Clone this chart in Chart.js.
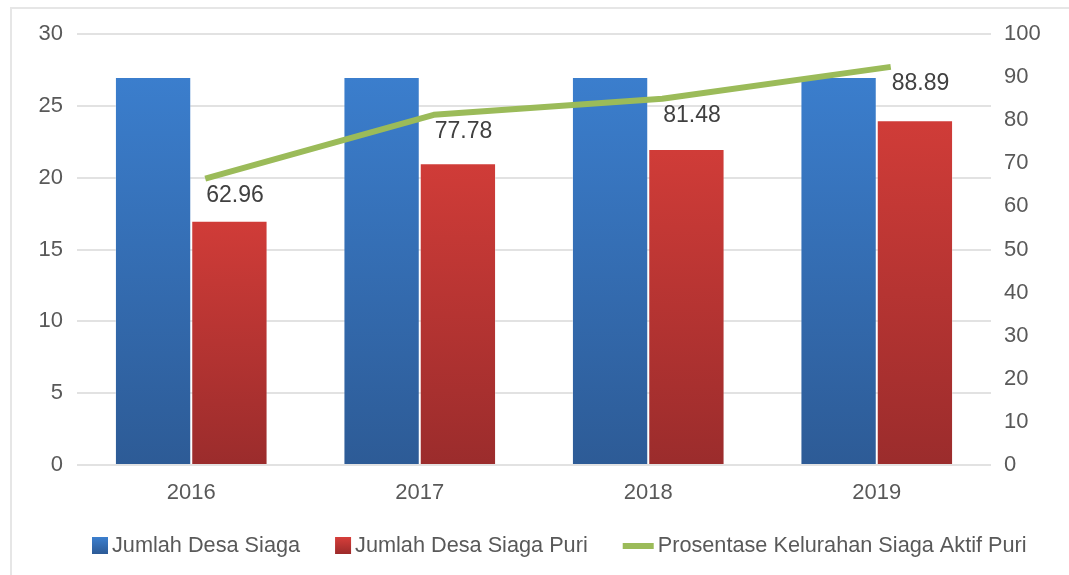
<!DOCTYPE html>
<html><head><meta charset="utf-8">
<script src="https://cdn.jsdelivr.net/npm/chart.js@4.4.1/dist/chart.umd.min.js"></script>
<style>
html,body{margin:0;padding:0;background:#fff;overflow:hidden;}
#wrap{position:relative;width:1069px;height:575px;}
#frame{position:absolute;left:10px;top:7px;right:-2px;bottom:-2px;border-top:2px solid #e6e6e6;border-left:2px solid #e6e6e6;}
canvas{position:absolute;left:0;top:0;}
</style></head><body>
<div id="wrap"><div id="frame"></div><canvas id="c" width="1069" height="575"></canvas></div>
<script>
const categories = ['2016', '2017', '2018', '2019'];
const desaSiaga = [27, 27, 27, 27];
const desaSiagaPuri = [17, 21, 22, 24];
const prosentase = [62.96, 77.78, 81.48, 88.89];
const prosentaseLabels = ['62.96', '77.78', '81.48', '88.89'];
const seriesNames = ['Jumlah Desa Siaga', 'Jumlah Desa Siaga Puri', 'Prosentase Kelurahan Siaga Aktif Puri'];

const FONT = "'Liberation Sans', Arial, sans-serif";
const TXT = '#595959';

function barGradient(topCol, botCol, fallback) {
  return function(ctx) {
    const chart = ctx.chart;
    if (!chart.chartArea || ctx.raw === undefined) return fallback;
    const ys = chart.scales.y;
    const t = ys.getPixelForValue(ctx.raw);
    const b = ys.getPixelForValue(0);
    if (!isFinite(t) || !isFinite(b) || t === b) return fallback;
    const g = chart.ctx.createLinearGradient(0, t, 0, b);
    g.addColorStop(0, topCol);
    g.addColorStop(1, botCol);
    return g;
  };
}

const lineShift = {
  id: 'lineShift',
  beforeDatasetDraw(chart, args) {
    if (args.index === 2) { chart.ctx.save(); chart.ctx.translate(14, -15); }
  },
  afterDatasetDraw(chart, args) {
    if (args.index === 2) { chart.ctx.restore(); }
  }
};

const valueLabels = {
  id: 'valueLabels',
  afterDatasetsDraw(chart) {
    const ctx = chart.ctx;
    const meta = chart.getDatasetMeta(2);
    ctx.save();
    ctx.font = "23px " + FONT;
    ctx.fillStyle = '#404040';
    ctx.textAlign = 'left';
    ctx.textBaseline = 'middle';
    meta.data.forEach((pt, i) => {
      ctx.fillText(prosentaseLabels[i], pt.x + 15, pt.y + 2);
    });
    ctx.restore();
  }
};

const customLegend = {
  id: 'customLegend',
  afterDraw(chart) {
    const ctx = chart.ctx;
    ctx.save();
    ctx.font = "21.7px " + FONT;
    ctx.textBaseline = 'middle';
    ctx.textAlign = 'left';
    const cy = 546;
    let x = 92;
    const syms = [
      {type: 'box', top: 'rgb(60,127,206)', bot: 'rgb(44,90,150)'},
      {type: 'box', top: 'rgb(214,62,58)', bot: 'rgb(156,42,42)'},
      {type: 'line', col: '#9bbb59'}
    ];
    chart.data.datasets.forEach((ds, i) => {
      const s = syms[i];
      let w;
      if (s.type === 'box') {
        w = 16;
        const g = ctx.createLinearGradient(0, cy - 9, 0, cy + 8);
        g.addColorStop(0, s.top); g.addColorStop(1, s.bot);
        ctx.fillStyle = g;
        ctx.fillRect(x, cy - 9, w, 17);
      } else {
        w = 31;
        ctx.fillStyle = s.col;
        ctx.fillRect(x, cy - 3, w, 6);
      }
      const tx = x + w + 4;
      ctx.fillStyle = TXT;
      ctx.fillText(ds.label, tx, cy);
      x = tx + ctx.measureText(ds.label).width + 35;
    });
    ctx.restore();
  }
};

new Chart(document.getElementById('c'), {
  type: 'bar',
  data: {
    labels: categories,
    datasets: [
      {
        label: seriesNames[0],
        data: desaSiaga,
        yAxisID: 'y',
        order: 1,
        backgroundColor: barGradient('rgb(59,126,205)', 'rgb(45,91,150)', 'rgb(52,108,178)'),
        borderColor: 'rgba(255,255,255,0.35)',
        borderWidth: 1,
        categoryPercentage: 0.668,
        barPercentage: 1
      },
      {
        label: seriesNames[1],
        data: desaSiagaPuri,
        yAxisID: 'y',
        order: 1,
        backgroundColor: barGradient('rgb(208,60,56)', 'rgb(155,44,44)', 'rgb(182,52,50)'),
        borderColor: 'rgba(255,255,255,0.35)',
        borderWidth: 1,
        categoryPercentage: 0.668,
        barPercentage: 1
      },
      {
        type: 'line',
        label: seriesNames[2],
        data: prosentase,
        yAxisID: 'y1',
        order: 0,
        borderColor: '#9bbb59',
        backgroundColor: '#9bbb59',
        borderWidth: 6,
        pointRadius: 0,
        pointHoverRadius: 0,
        tension: 0,
        clip: false,
        borderCapStyle: 'butt',
        borderJoinStyle: 'round'
      }
    ]
  },
  options: {
    responsive: false,
    animation: false,
    devicePixelRatio: 1,
    layout: {padding: {top: 34, left: 0, right: 0, bottom: 0}},
    plugins: {
      legend: {display: false},
      tooltip: {enabled: false},
      title: {display: false}
    },
    scales: {
      x: {
        grid: {display: false, drawTicks: false},
        border: {display: false},
        ticks: {color: TXT, font: {family: FONT, size: 22}, padding: 15},
        afterFit(s) { s.height = 110; }
      },
      y: {
        position: 'left',
        min: 0, max: 30,
        ticks: {stepSize: 5, color: TXT, font: {family: FONT, size: 22}, padding: 14},
        grid: {color: '#e2e2e2', lineWidth: 2, drawTicks: false},
        border: {display: false},
        afterFit(s) { s.width = 77; }
      },
      y1: {
        position: 'right',
        min: 0, max: 100,
        ticks: {stepSize: 10, color: TXT, font: {family: FONT, size: 22}, padding: 13},
        grid: {display: false, drawTicks: false},
        border: {display: false},
        afterFit(s) { s.width = 78; }
      }
    }
  },
  plugins: [lineShift, valueLabels, customLegend]
});
</script>
</body></html>
